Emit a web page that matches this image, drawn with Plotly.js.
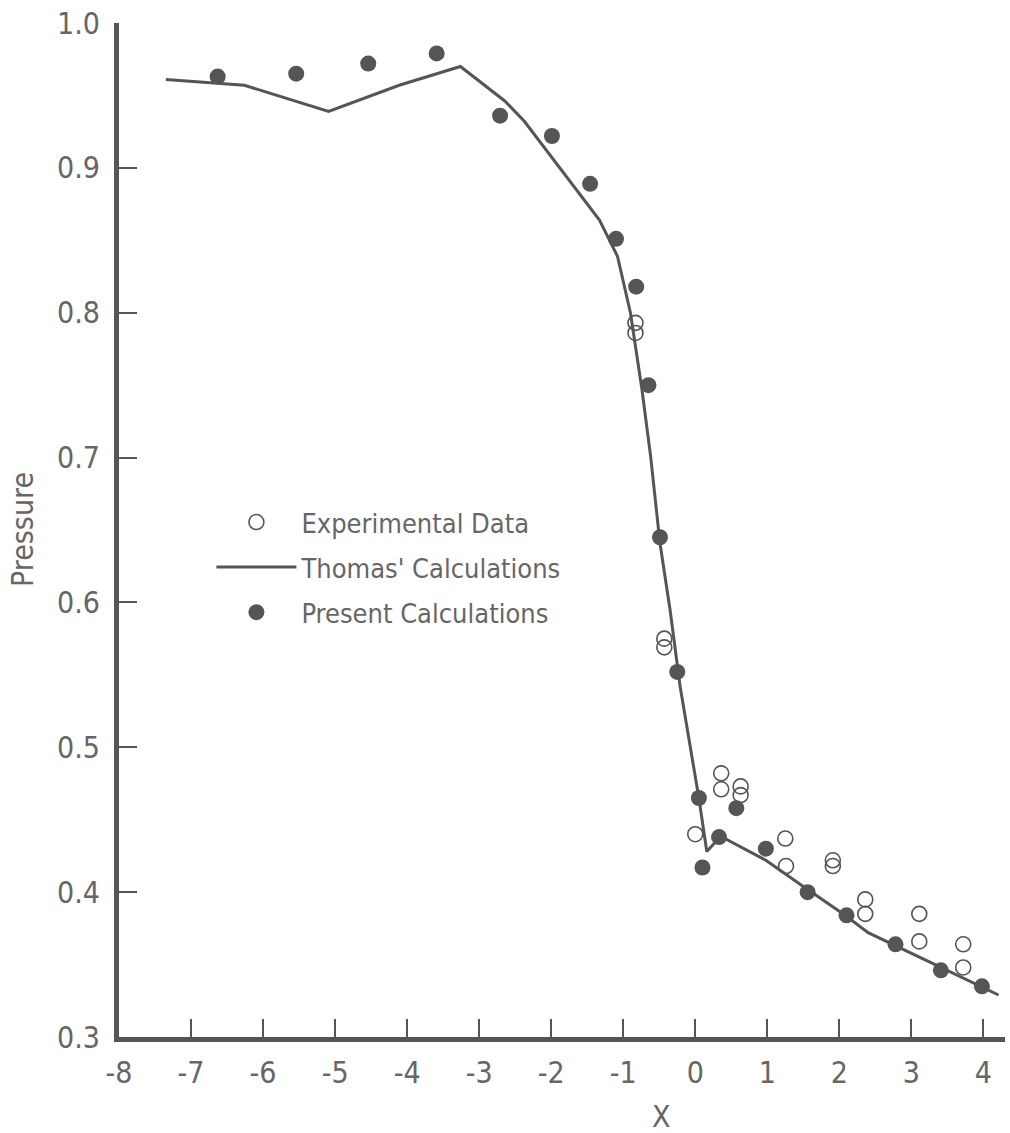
<!DOCTYPE html>
<html>
<head>
<meta charset="utf-8">
<script src="https://cdn.plot.ly/plotly-3.0.1.min.js"></script>
<style>
  html, body { margin: 0; padding: 0; background: #fff; }
  #chart { width: 1010px; height: 1133px; }
</style>
</head>
<body>
<div id="chart"></div>
<script>
// ---- data ----
const thomasX = [-7.35, -6.26, -5.09, -4.11, -3.26, -2.64, -2.37, -1.33, -1.08, -0.90, -0.74, -0.62, -0.49, -0.35, -0.21, -0.03, 0.05, 0.16, 0.36, 0.45, 0.98, 1.44, 2.08, 2.40, 2.77, 3.41, 4.21];
const thomasY = [0.961, 0.957, 0.939, 0.957, 0.970, 0.946, 0.932, 0.864, 0.839, 0.800, 0.747, 0.701, 0.641, 0.595, 0.542, 0.487, 0.465, 0.428, 0.439, 0.436, 0.422, 0.406, 0.384, 0.372, 0.363, 0.348, 0.329];

const presentX = [-6.63, -5.54, -4.54, -3.59, -2.71, -1.99, -1.46, -1.10, -0.82, -0.65, -0.49, -0.25, 0.05, 0.10, 0.33, 0.57, 0.98, 1.56, 2.10, 2.78, 3.41, 3.98];
const presentY = [0.963, 0.965, 0.972, 0.979, 0.936, 0.922, 0.889, 0.851, 0.818, 0.750, 0.645, 0.552, 0.465, 0.417, 0.438, 0.458, 0.430, 0.400, 0.384, 0.364, 0.346, 0.335];

const expX = [-0.83, -0.83, -0.43, -0.43, 0.00, 0.36, 0.36, 0.63, 0.63, 1.25, 1.26, 1.91, 1.91, 2.36, 2.36, 3.11, 3.11, 3.72, 3.72];
const expY = [0.793, 0.786, 0.575, 0.569, 0.440, 0.482, 0.471, 0.473, 0.467, 0.437, 0.418, 0.422, 0.418, 0.395, 0.385, 0.385, 0.366, 0.364, 0.348];

const xTickVals = [-8, -7, -6, -5, -4, -3, -2, -1, 0, 1, 2, 3, 4];
const xTickText = ["-8", "-7", "-6", "-5", "-4", "-3", "-2", "-1", "0", "1", "2", "3", "4"];
const yTickVals = [0.3, 0.4, 0.5, 0.6, 0.7, 0.8, 0.9, 1.0];
const yTickText = ["0.3", "0.4", "0.5", "0.6", "0.7", "0.8", "0.9", "1.0"];

const seriesNames = ["Experimental Data", "Thomas' Calculations", "Present Calculations"];
const xTitle = "X";
const yTitle = "Pressure";
const xTitlePos = -0.47;   // where the X title sits along the axis in the original

// ---- styling ----
const INK = '#555555';
const TXT = '#666666';
const FONT = '"DejaVu Sans Condensed", "DejaVu Sans", sans-serif';

const traces = [
  {
    x: thomasX, y: thomasY, type: 'scatter', mode: 'lines',
    name: seriesNames[1], legendrank: 2, legendgroup: 'b',
    line: { color: INK, width: 3 }
  },
  {
    x: presentX, y: presentY, type: 'scatter', mode: 'markers',
    name: seriesNames[2], legendrank: 3, legendgroup: 'c',
    marker: { symbol: 'circle', color: INK, size: 16, line: { width: 0 } }
  },
  {
    x: expX, y: expY, type: 'scatter', mode: 'markers',
    name: seriesNames[0], legendrank: 1, legendgroup: 'a',
    marker: { symbol: 'circle-open', color: INK, size: 15, line: { width: 1.6, color: INK } }
  }
];

const layout = {
  width: 1010, height: 1133,
  paper_bgcolor: '#ffffff', plot_bgcolor: '#ffffff',
  margin: { l: 119, r: 5, t: 23, b: 96 },
  font: { family: FONT, color: TXT, size: 27 },
  showlegend: true,
  legend: {
    x: 0.1043, y: 0.5316, xanchor: 'left', yanchor: 'top',
    bgcolor: 'rgba(0,0,0,0)', borderwidth: 0,
    font: { family: FONT, size: 27, color: TXT },
    traceorder: 'grouped', tracegroupgap: 7, itemwidth: 80
  },
  xaxis: {
    range: [-8, 4.3], showgrid: false, zeroline: false,
    showline: true, linewidth: 5, linecolor: INK,
    ticks: 'inside', ticklen: 18, tickwidth: 2, tickcolor: INK,
    tickmode: 'array', tickvals: xTickVals, ticktext: xTickText,
    ticklabelstandoff: 5,
    tickfont: { family: FONT, size: 30, color: TXT }
  },
  yaxis: {
    range: [0.3, 1.0], showgrid: false, zeroline: false,
    showline: true, linewidth: 5, linecolor: INK,
    ticks: 'inside', ticklen: 18, tickwidth: 2, tickcolor: INK,
    tickmode: 'array', tickvals: yTickVals, ticktext: yTickText,
    ticklabelstandoff: 8,
    tickfont: { family: FONT, size: 30, color: TXT }
  },
  annotations: [
    {
      text: xTitle, xref: 'x', yref: 'paper', x: xTitlePos, y: 0,
      xanchor: 'center', yanchor: 'middle', yshift: -79, showarrow: false,
      font: { family: FONT, size: 30, color: TXT }
    },
    {
      text: yTitle, xref: 'paper', yref: 'paper', x: 0, y: 0.5,
      xanchor: 'center', yanchor: 'middle', xshift: -97, textangle: -90, showarrow: false,
      font: { family: FONT, size: 30, color: TXT }
    }
  ]
};

Plotly.newPlot('chart', traces, layout, { staticPlot: true, displayModeBar: false });
</script>
</body>
</html>
